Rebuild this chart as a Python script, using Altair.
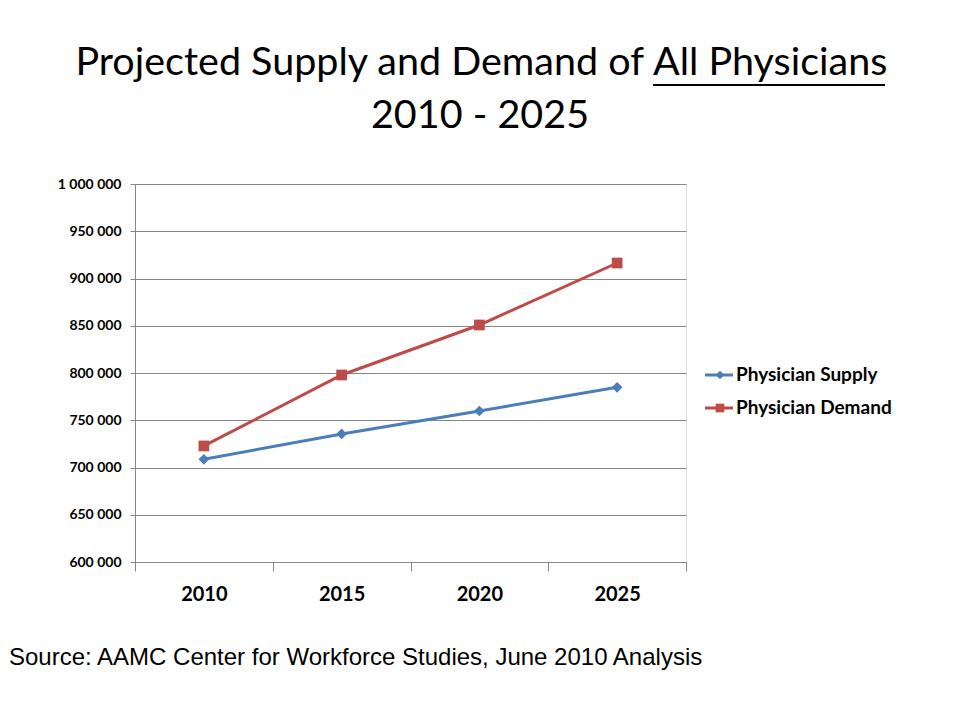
import altair as alt
import pandas as pd

years = ["2010", "2015", "2020", "2025"]
supply = [708700, 735500, 759800, 784900]
demand = [722800, 797900, 850800, 916400]
series_names = ["Physician Supply", "Physician Demand"]
title_main = ["Projected Supply and Demand of"]
title_under = ["All Physicians"]
title_line2 = ["2010 - 2025"]
source_text = ["Source: AAMC Center for Workforce Studies, June 2010 Analysis"]

BLUE = "#4A7EBB"
RED = "#BE4B48"
FONT = "Lato"
TSIZE = 39.5

rows = []
for y, s, d in zip(years, supply, demand):
    rows.append({"year": y, "series": series_names[0], "value": s})
    rows.append({"year": y, "series": series_names[1], "value": d})
df = pd.DataFrame(rows)

W, H = 551, 378

xenc = alt.X("year:O", scale=alt.Scale(type="band", paddingInner=0, paddingOuter=0),
             axis=alt.Axis(title=None, tickBand="extent", tickSize=9, tickColor="#868686",
                           domainColor="#868686", labelFont=FONT, labelFontWeight="bold",
                           labelFontSize=20, labelColor="#000000", labelPadding=13,
                           labelAngle=0, grid=False))
yenc = alt.Y("value:Q", scale=alt.Scale(domain=[600000, 1000000], nice=False, zero=False),
             axis=alt.Axis(title=None, values=list(range(600000, 1000001, 50000)),
                           labelExpr="replace(format(datum.value, ','), regexp(',', 'g'), ' ')",
                           tickSize=5, tickColor="#868686", domainColor="#868686",
                           gridColor="#868686", labelFont=FONT, labelFontWeight="bold",
                           labelFontSize=14, labelColor="#000000", labelPadding=9))
color = alt.Color("series:N", scale=alt.Scale(domain=series_names, range=[BLUE, RED]), legend=None)

base = alt.Chart(df)
lines = base.mark_line(strokeWidth=3).encode(x=xenc, y=yenc, color=color)
pts = base.mark_point(filled=True, opacity=1, size=115).encode(
    x="year:O", y="value:Q", color=color,
    shape=alt.Shape("series:N", scale=alt.Scale(domain=series_names, range=["diamond", "square"]), legend=None))

layers = [lines, pts]

# legend
shapes = ["diamond", "square"]
cols = [BLUE, RED]
for i, name in enumerate(series_names):
    ld = pd.DataFrame({"series": [name]})
    ly = 191 + 33 * i
    layers.append(alt.Chart(ld).mark_rule(color=cols[i], strokeWidth=3).encode(
        x=alt.value(570), x2=alt.value(598), y=alt.value(ly)))
    layers.append(alt.Chart(ld).mark_point(shape=shapes[i], filled=True, opacity=1, size=75, color=cols[i]).encode(
        x=alt.value(585), y=alt.value(ly)))
    layers.append(alt.Chart(ld).mark_text(align="left", baseline="middle", font=FONT, fontWeight="bold",
                                          fontSize=19, color="#000000").encode(
        text="series:N", x=alt.value(601), y=alt.value(ly)))

# titles
SPLIT = 518
layers.append(alt.Chart(pd.DataFrame({"t": title_main})).mark_text(
    align="right", baseline="alphabetic", font=FONT, fontSize=TSIZE, color="#000000").encode(
    text="t:N", x=alt.value(SPLIT - 9), y=alt.value(-109)))
layers.append(alt.Chart(pd.DataFrame({"t": title_under})).mark_text(
    align="left", baseline="alphabetic", font=FONT, fontSize=TSIZE, color="#000000").encode(
    text="t:N", x=alt.value(SPLIT), y=alt.value(-109)))
layers.append(alt.Chart(pd.DataFrame({"t": title_under})).mark_rule(color="#000000", strokeWidth=2).encode(
    x=alt.value(SPLIT), x2=alt.value(750), y=alt.value(-99)))
layers.append(alt.Chart(pd.DataFrame({"t": title_line2})).mark_text(
    align="center", baseline="alphabetic", font=FONT, fontSize=TSIZE, color="#000000").encode(
    text="t:N", x=alt.value(345), y=alt.value(-56)))
layers.append(alt.Chart(pd.DataFrame({"t": source_text})).mark_text(
    align="left", baseline="alphabetic", font="Liberation Sans", fontSize=24, color="#000000").encode(
    text="t:N", x=alt.value(-126), y=alt.value(481)))

chart = alt.layer(*layers).properties(
    width=W, height=H,
    autosize=alt.AutoSizeParams(type="none"),
    padding={"left": 127, "top": 176, "right": 266, "bottom": 146},
).configure_view(stroke=None).configure(background="#ffffff")

chart.save("out.html", embed_options={"renderer": "svg", "actions": False})
